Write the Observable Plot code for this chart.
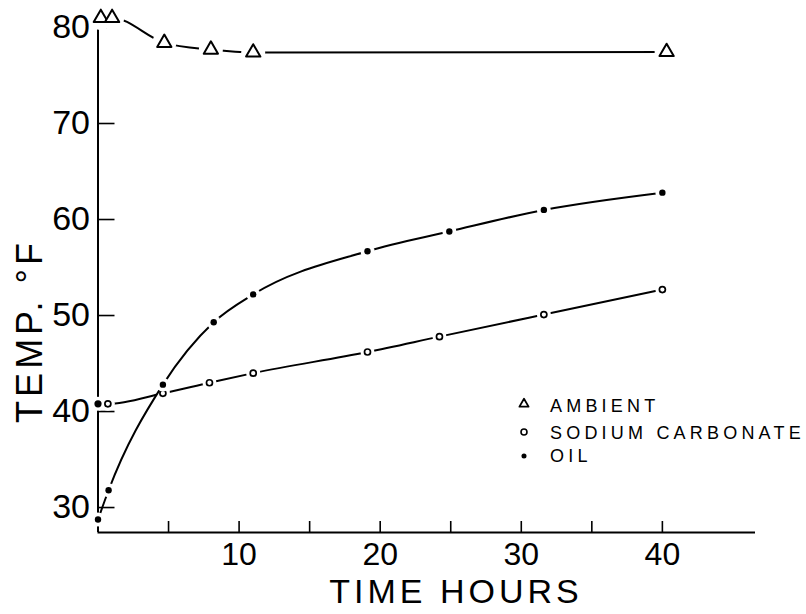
<!DOCTYPE html>
<html>
<head>
<meta charset="utf-8">
<script src="https://cdn.jsdelivr.net/npm/d3@7"></script>
<script src="https://cdn.jsdelivr.net/npm/@observablehq/plot@0.6"></script>
<style>
  body { margin: 0; background: #fff; }
  #chart { width: 806px; height: 614px; }
</style>
</head>
<body>
<div id="chart"></div>
<script>
// Temperature (°F) against time (hours) for the three series
const ambientTime = [0.2, 1.0, 4.7, 8.0, 11.0, 40.3];
const ambientTemp = [81.0, 81.0, 78.4, 77.7, 77.4, 77.45];

const sodiumTime = [0, 0.7, 4.6, 7.9, 11.0, 19.1, 24.2, 31.6, 40.0];
const sodiumTemp = [40.8, 40.8, 41.9, 43.0, 44.0, 46.2, 47.8, 50.1, 52.7];

const oilTime = [0, 0.75, 4.6, 8.2, 11.0, 19.1, 24.9, 31.6, 40.0];
const oilTemp = [28.75, 31.8, 42.8, 49.3, 52.2, 56.7, 58.75, 61.0, 62.8];

const xDomain = [0, 46.6];
const yDomain = [27.4, 80];
const xTicks = [5, 10, 15, 20, 25, 30, 35, 40];
const yTicks = [30, 40, 50, 60, 70, 80];
const legendLabels = ["AMBIENT", "SODIUM CARBONATE", "OIL"];
const xLabel = "TIME HOURS";
const yLabel = "TEMP. °F";

const rows = (t, v) => t.map((d, i) => ({time: d, temp: v[i]}));
const ambient = rows(ambientTime, ambientTemp);
const sodium = rows(sodiumTime, sodiumTemp);
const oil = rows(oilTime, oilTemp);

const font = "'Liberation Sans', 'DejaVu Sans', sans-serif";
const xy = {x: "time", y: "temp"};

const chart = Plot.plot({
  width: 806,
  height: 614,
  marginLeft: 97.5,
  marginRight: 51,
  marginTop: 27,
  marginBottom: 82,
  x: {domain: xDomain},
  y: {domain: yDomain},
  style: {fontFamily: font, background: "white", color: "black"},
  marks: [
    // axis lines
    Plot.ruleX([xDomain[0]], {strokeWidth: 2}),
    Plot.ruleY([yDomain[0]], {strokeWidth: 2}),
    // inward ticks, labels outside
    Plot.axisX({ticks: xTicks, tickSize: -11, tickPadding: 21, strokeWidth: 1.6,
      fontSize: 32, tickFormat: d => d % 10 === 0 ? String(d) : "", label: null}),
    Plot.axisY({ticks: yTicks, tickSize: -17, tickPadding: 25, strokeWidth: 1.6,
      fontSize: 34, label: null}),

    // ambient: line broken around each hollow triangle
    Plot.line(ambient, {...xy, curve: "monotone-x", strokeWidth: 2}),
    Plot.dot(ambient, {...xy, r: 12, fill: "white", stroke: null}),
    Plot.dot(ambient, {...xy, symbol: "triangle", r: 5.3, fill: "white", stroke: "black",
      strokeWidth: 2, strokeLinejoin: "round"}),

    // sodium carbonate
    Plot.line(sodium, {...xy, curve: "monotone-x", strokeWidth: 2}),
    Plot.dot(sodium, {...xy, r: 7, fill: "white", stroke: null}),
    Plot.dot(sodium.slice(0, 1), {...xy, r: 3.6, fill: "black", stroke: null}),
    Plot.dot(sodium.slice(1), {...xy, r: 3, fill: "white", stroke: "black", strokeWidth: 1.7}),

    // oil
    Plot.line(oil, {...xy, curve: "monotone-x", strokeWidth: 2}),
    Plot.dot(oil, {...xy, r: 7, fill: "white", stroke: null}),
    Plot.dot(oil, {...xy, r: 3.2, fill: "black", stroke: null})
  ]
});

const svg = d3.select(chart);

// axis titles
svg.append("text")
  .attr("x", 456).attr("y", 603)
  .attr("text-anchor", "middle")
  .style("font-family", font).style("font-size", "34px").style("letter-spacing", "4px")
  .attr("fill", "black")
  .text(xLabel);

svg.append("text")
  .attr("transform", "translate(42,331) rotate(-90)")
  .attr("text-anchor", "middle")
  .style("font-family", font).style("font-size", "36px").style("letter-spacing", "4px")
  .attr("fill", "black")
  .text(yLabel);

// legend
const legend = svg.append("g").attr("transform", "translate(524,0)");
const legendRows = [
  {y: 404, base: 412, sym: d3.symbolTriangle, size: 36, fill: "white", sw: 1.8},
  {y: 432, base: 439, sym: d3.symbolCircle, size: 28, fill: "white", sw: 1.6},
  {y: 456, base: 462, sym: d3.symbolCircle, size: 20, fill: "black", sw: 0}
];
legendRows.forEach((r, i) => {
  legend.append("path")
    .attr("d", d3.symbol(r.sym, r.size)())
    .attr("transform", `translate(0,${r.y})`)
    .attr("fill", r.fill)
    .attr("stroke", r.sw ? "black" : "none")
    .attr("stroke-width", r.sw)
    .attr("stroke-linejoin", "round");
  legend.append("text")
    .attr("x", 26).attr("y", r.base)
    .attr("text-anchor", "start")
    .style("font-family", font).style("font-size", "18px").style("letter-spacing", "4.2px")
    .attr("fill", "black")
    .text(legendLabels[i]);
});

document.getElementById("chart").appendChild(chart);
</script>
</body>
</html>
